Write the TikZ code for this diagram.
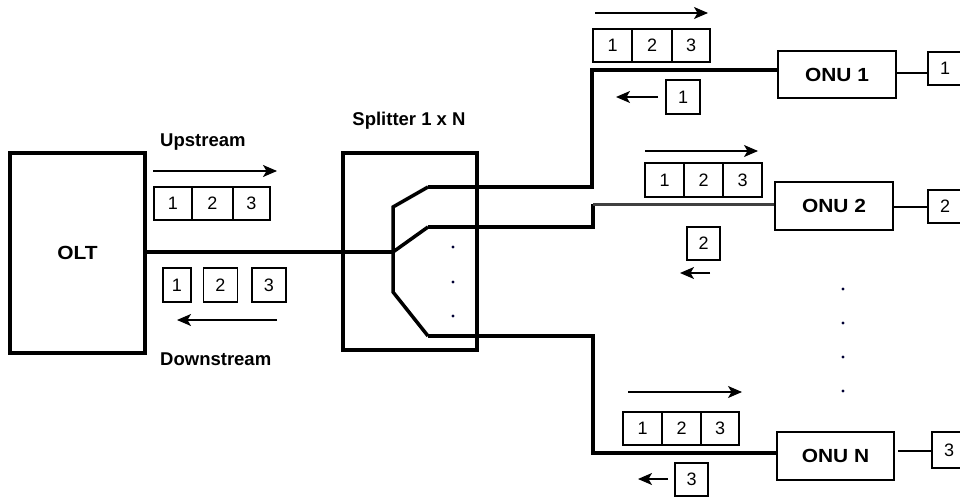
\documentclass[tikz,border=0pt]{standalone}
\usepackage{fontspec}
\setmainfont{Liberation Sans}
\newfontfamily\widebold{Liberation Sans Bold}[FakeStretch=1.1]
\usetikzlibrary{arrows.meta}
\begin{document}
\begin{tikzpicture}[x=1pt,y=-1pt,
  bigbox/.style={draw, line width=4pt, inner sep=0pt},
  onubox/.style={draw, line width=1.5pt, inner sep=0pt, minimum width=118pt, minimum height=47pt,
    font=\widebold\fontsize{19}{19}\selectfont},
  cell/.style={draw, line width=1.2pt, inner sep=0pt, minimum width=39pt, minimum height=33pt,
    font=\fontsize{18}{18}\selectfont},
  sbox/.style={draw, line width=1.2pt, inner sep=0pt, minimum width=34pt, minimum height=34pt,
    font=\fontsize{18}{18}\selectfont},
  mainfiber/.style={line width=4.5pt},
  fiber/.style={line width=3.5pt, line join=miter},
  stub/.style={line width=1.3pt},
  flowarrow/.style={line width=1.3pt, -{Stealth[length=14pt,width=12pt,inset=3.5pt]}},
  lbl/.style={font=\bfseries\fontsize{18.5}{18.5}\selectfont, inner sep=0pt},
  dotmark/.style={fill=black!80!blue}
]
\useasboundingbox (0,0) rectangle (960,497);
\clip (0,0) rectangle (960,497);

% main blocks
\node[bigbox, minimum width=135pt, minimum height=200pt, font=\widebold\fontsize{19}{19}\selectfont] (OLT) at (77.5,253) {OLT};
\node[bigbox, minimum width=134pt, minimum height=197pt] (SPL) at (410,251.5) {};
\node[lbl] (splabel) at (409,121) {Splitter 1 x N};

\node[onubox] (ONU1) at (837,74.5) {ONU 1};
\node[onubox, minimum height=48pt] (ONU2) at (834,206) {ONU 2};
\node[onubox, minimum width=117pt, minimum height=48pt] (ONUN) at (835.5,456) {ONU N};

% right-hand boxes (clipped by page edge)
\node[sbox, minimum height=33pt] (r1) at (945,68.5) {1};
\node[sbox, minimum height=33pt] (r2) at (945,206.5) {2};
\node[sbox, minimum height=36pt] (r3) at (949,450) {3};

\draw[stub] (ONU1.east |- 0,73) -- (r1.west |- 0,73);
\draw[stub] (ONU2.east |- 0,207) -- (r2.west |- 0,207);
\draw[stub] (898,451) coordinate (s3a) -- (s3a -| r3.west);

% splitter internals
\coordinate (j)  at (393,252);
\coordinate (j0) at (393,207);
\coordinate (j1) at (393,292);
\coordinate (b1) at (428,187);
\coordinate (b2) at (428,227);
\coordinate (b3) at (428,336);
\draw[mainfiber] (j -| OLT.east) -- (j);
\draw[fiber] (b1) -- (j0) -- (j1) -- (b3);
\draw[fiber] (j) -- (b2);

% branches to ONUs
\coordinate (k1) at (592,187);
\coordinate (k2) at (593,227);
\coordinate (k2t) at (593,204);
\coordinate (k3) at (593,336);
\draw[fiber] (b1) -- (k1) -- (k1 |- 0,70) -- (ONU1.west |- 0,70);
\draw[fiber] (b2) -- (k2) -- (k2t);
\draw[line width=3pt, black!75] (k2t) -- (ONU2.west |- k2t);
\draw[fiber] (b3) -- (k3) -- (k3 |- 0,453) -- (ONUN.west |- 0,453);

% dots
\foreach \yy in {247,282,316} \fill[dotmark] (453,\yy) circle (1.6pt);
\foreach \yy in {289,323,357,391} \fill[dotmark] (843,\yy) circle (1.6pt);

% upstream / downstream on the OLT side
\node[lbl, anchor=west] (up) at (160,142) {Upstream};
\node[lbl, anchor=west] (down) at (160,359) {Downstream};
\coordinate (ua) at (153,171); \coordinate (ub) at (277,171);
\draw[flowarrow] (ua) -- (ub);
\node[cell, minimum width=38pt] (a1) at (173,203.5) {1};
\node[cell, minimum width=41pt] (a2) at (212.5,203.5) {2};
\node[cell, minimum width=37pt] (a3) at (251.5,203.5) {3};
\node[sbox, minimum width=28pt] (d1) at (177,285) {1};
\node[sbox] (d2) at (220.5,285) {2};
\node[sbox] (d3) at (269,285) {3};
\coordinate (da) at (277,320); \coordinate (db) at (177,320);
\draw[flowarrow] (da) -- (db);

% ONU 1 side
\coordinate (f1a) at (595,13); \coordinate (f1b) at (708,13);
\draw[flowarrow] (f1a) -- (f1b);
\node[cell] (c11) at (612.5,45.5) {1};
\node[cell, minimum width=40pt] (c12) at (652,45.5) {2};
\node[cell, minimum width=38pt] (c13) at (691,45.5) {3};
\node[sbox] (s1) at (683,97) {1};
\coordinate (g1a) at (658,97); \coordinate (g1b) at (616,97);
\draw[flowarrow] (g1a) -- (g1b);

% ONU 2 side
\coordinate (f2a) at (645,151); \coordinate (f2b) at (758,151);
\draw[flowarrow] (f2a) -- (f2b);
\node[cell, minimum height=34pt] (c21) at (664.5,180) {1};
\node[cell, minimum height=34pt] (c22) at (703.5,180) {2};
\node[cell, minimum height=34pt] (c23) at (742.5,180) {3};
\node[sbox, minimum width=33pt, minimum height=33pt] (s2) at (703.5,243.5) {2};
\coordinate (g2a) at (710,273); \coordinate (g2b) at (680,273);
\draw[flowarrow] (g2a) -- (g2b);

% ONU N side
\coordinate (f3a) at (628,392); \coordinate (f3b) at (742,392);
\draw[flowarrow] (f3a) -- (f3b);
\node[cell] (c31) at (642.5,428.5) {1};
\node[cell] (c32) at (681.5,428.5) {2};
\node[cell, minimum width=38pt] (c33) at (720,428.5) {3};
\node[sbox, minimum width=33pt, minimum height=33pt] (s3) at (691.5,479.5) {3};
\coordinate (g3a) at (668,479); \coordinate (g3b) at (638,479);
\draw[flowarrow] (g3a) -- (g3b);
\end{tikzpicture}
\end{document}
